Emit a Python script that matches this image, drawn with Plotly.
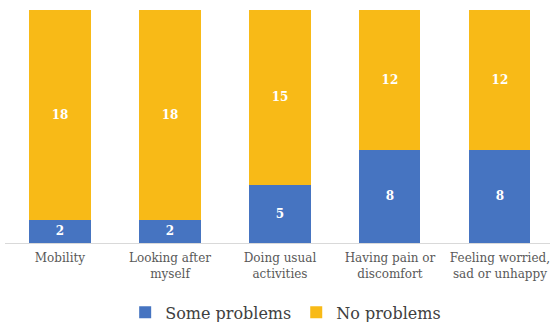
import plotly.graph_objects as go

categories = ["Mobility", "Looking after<br>myself", "Doing usual<br>activities",
              "Having pain or<br>discomfort", "Feeling worried,<br>sad or unhappy"]
some_problems = [2, 2, 5, 8, 8]
no_problems = [18, 18, 15, 12, 12]

BLUE = "#4674C1"
GOLD = "#F8BA17"
FONT = "DejaVu Serif"

fig = go.Figure()
fig.add_trace(go.Bar(
    x=categories, y=some_problems, name="Some problems",
    marker=dict(color=BLUE, line=dict(width=0)),
    text=some_problems, textposition="inside", insidetextanchor="middle",
    textfont=dict(family=FONT, size=12, color="white", weight="bold"),
))
fig.add_trace(go.Bar(
    x=categories, y=no_problems, name="No problems",
    marker=dict(color=GOLD, line=dict(width=0)),
    text=no_problems, textposition="inside", insidetextanchor="middle",
    textfont=dict(family=FONT, size=12, color="white", weight="bold"),
))

fig.update_layout(
    width=550, height=322,
    barmode="stack", bargap=0.445,
    margin=dict(l=5, r=0, t=10, b=79, autoexpand=False),
    plot_bgcolor="white", paper_bgcolor="white",
    font=dict(family=FONT, color="#595959"),
    showlegend=True,
    legend=dict(orientation="h", x=0.515, xanchor="center", y=-0.225, yanchor="top",
                font=dict(family=FONT, size=16, color="#404040"),
                itemwidth=30, traceorder="normal"),
    uniformtext=dict(minsize=8, mode="show"),
)
fig.update_xaxes(range=[-0.5, 4.455], showline=True, linecolor="#D9D9D9", linewidth=1,
                 ticks="", tickangle=0, ticklabelstandoff=4,
                 tickfont=dict(family=FONT, size=12, color="#595959"))
fig.update_yaxes(range=[0, 20], visible=False, showgrid=False)

fig.write_html("out.html")
